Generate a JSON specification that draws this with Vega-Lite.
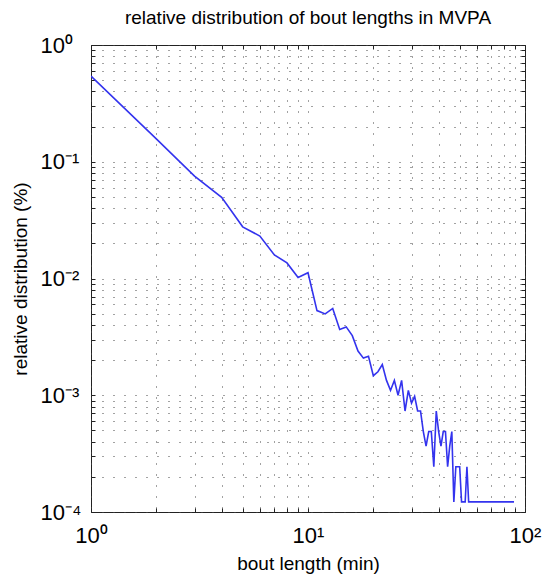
{
  "$schema": "https://vega.github.io/schema/vega-lite/v6.json",
  "autosize": "none",
  "width": 434,
  "height": 467,
  "padding": {"left": 91, "top": 45, "right": 20, "bottom": 64},
  "background": "white",
  "title": {"text": "relative distribution of bout lengths in MVPA", "fontSize": 19, "font": "Liberation Sans", "fontWeight": "normal", "color": "#000", "offset": 6, "anchor": "middle"},
  "config": {
    "view": {"stroke": "#222", "strokeWidth": 1},
    "axis": {"domain": false, "labelFont": "Liberation Sans", "titleFont": "Liberation Sans", "labelColor": "#000", "titleColor": "#000", "titleFontWeight": "normal", "tickColor": "#222", "labelOverlap": false, "labelFlush": false, "gridColor": "#444", "gridDash": [1, 10], "gridWidth": 1, "gridOpacity": 1}
  },
  "data": {"values": [
    {"bout": 1, "dist": 0.542},
    {"bout": 2, "dist": 0.157},
    {"bout": 3, "dist": 0.0754},
    {"bout": 4, "dist": 0.0495},
    {"bout": 5, "dist": 0.0277},
    {"bout": 6, "dist": 0.0231},
    {"bout": 7, "dist": 0.0159},
    {"bout": 8, "dist": 0.0136},
    {"bout": 9, "dist": 0.0102},
    {"bout": 10, "dist": 0.0112},
    {"bout": 11, "dist": 0.00531},
    {"bout": 12, "dist": 0.00497},
    {"bout": 13, "dist": 0.00554},
    {"bout": 14, "dist": 0.00366},
    {"bout": 15, "dist": 0.00385},
    {"bout": 16, "dist": 0.00324},
    {"bout": 17, "dist": 0.00239},
    {"bout": 18, "dist": 0.00208},
    {"bout": 19, "dist": 0.00216},
    {"bout": 20, "dist": 0.00147},
    {"bout": 21, "dist": 0.00159},
    {"bout": 22, "dist": 0.00183},
    {"bout": 23, "dist": 0.00134},
    {"bout": 24, "dist": 0.0011},
    {"bout": 25, "dist": 0.00134},
    {"bout": 26, "dist": 0.001},
    {"bout": 27, "dist": 0.00134},
    {"bout": 28, "dist": 0.000733},
    {"bout": 29, "dist": 0.0011},
    {"bout": 30, "dist": 0.000856},
    {"bout": 31, "dist": 0.000978},
    {"bout": 32, "dist": 0.000733},
    {"bout": 33, "dist": 0.000733},
    {"bout": 34, "dist": 0.000489},
    {"bout": 35, "dist": 0.000367},
    {"bout": 36, "dist": 0.000489},
    {"bout": 37, "dist": 0.000489},
    {"bout": 38, "dist": 0.000244},
    {"bout": 39, "dist": 0.000733},
    {"bout": 40, "dist": 0.000489},
    {"bout": 41, "dist": 0.000367},
    {"bout": 42, "dist": 0.000489},
    {"bout": 43, "dist": 0.000489},
    {"bout": 44, "dist": 0.000244},
    {"bout": 45, "dist": 0.000367},
    {"bout": 46, "dist": 0.000489},
    {"bout": 47, "dist": 0.000122},
    {"bout": 48, "dist": 0.000244},
    {"bout": 49, "dist": 0.000244},
    {"bout": 50, "dist": 0.000244},
    {"bout": 51, "dist": 0.000122},
    {"bout": 52, "dist": 0.000122},
    {"bout": 53, "dist": 0.000122},
    {"bout": 54, "dist": 0.000244},
    {"bout": 55, "dist": 0.000122},
    {"bout": 89, "dist": 0.000122}
  ]},
  "layer": [
    {
      "mark": {"type": "line", "color": "#3333ee", "strokeWidth": 1.6, "clip": true},
      "encoding": {
        "x": {"field": "bout", "type": "quantitative",
          "scale": {"type": "log", "domain": [1, 100], "nice": false},
          "axis": {"orient": "bottom", "values": [1,2,3,4,5,6,7,8,9,10,20,30,40,50,60,70,80,90,100],
            "labelExpr": "datum.value == 1 ? '10⁰' : datum.value == 10 ? '10¹' : datum.value == 100 ? '10²' : ''",
            "labelFontSize": 22, "labelPadding": 17, "tickSize": -4, "grid": true,
            "title": "bout length (min)", "titleFontSize": 19, "titlePadding": 8}},
        "y": {"field": "dist", "type": "quantitative",
          "scale": {"type": "log", "domain": [0.0001, 1], "nice": false},
          "axis": {"orient": "left", "values": [0.0001,0.0002,0.0003,0.0004,0.0005,0.0006,0.0007,0.0008,0.0009,0.001,0.002,0.003,0.004,0.005,0.006,0.007,0.008,0.009,0.01,0.02,0.03,0.04,0.05,0.06,0.07,0.08,0.09,0.1,0.2,0.3,0.4,0.5,0.6,0.7,0.8,0.9,1],
            "labelExpr": "datum.value == 1 ? '10⁰' : datum.value == 0.1 ? '10⁻¹' : datum.value == 0.01 ? '10⁻²' : datum.value == 0.001 ? '10⁻³' : datum.value == 0.0001 ? '10⁻⁴' : ''",
            "labelFontSize": 22, "labelAlign": "left", "labelPadding": 55, "tickSize": -4, "grid": true,
            "title": "relative distribution (%)", "titleFontSize": 19, "titlePadding": 10}}
      }
    },
    {
      "mark": {"type": "line", "opacity": 0},
      "encoding": {
        "x": {"field": "bout", "type": "quantitative",
          "scale": {"type": "log", "domain": [1, 100], "nice": false},
          "axis": {"orient": "top", "values": [1,2,3,4,5,6,7,8,9,10,20,30,40,50,60,70,80,90,100], "labels": false, "tickSize": -4, "grid": false, "title": null}},
        "y": {"field": "dist", "type": "quantitative",
          "scale": {"type": "log", "domain": [0.0001, 1], "nice": false},
          "axis": {"orient": "right", "values": [0.0001,0.0002,0.0003,0.0004,0.0005,0.0006,0.0007,0.0008,0.0009,0.001,0.002,0.003,0.004,0.005,0.006,0.007,0.008,0.009,0.01,0.02,0.03,0.04,0.05,0.06,0.07,0.08,0.09,0.1,0.2,0.3,0.4,0.5,0.6,0.7,0.8,0.9,1], "labels": false, "tickSize": -4, "grid": false, "title": null}}
      }
    }
  ],
  "resolve": {"axis": {"x": "independent", "y": "independent"}}
}
